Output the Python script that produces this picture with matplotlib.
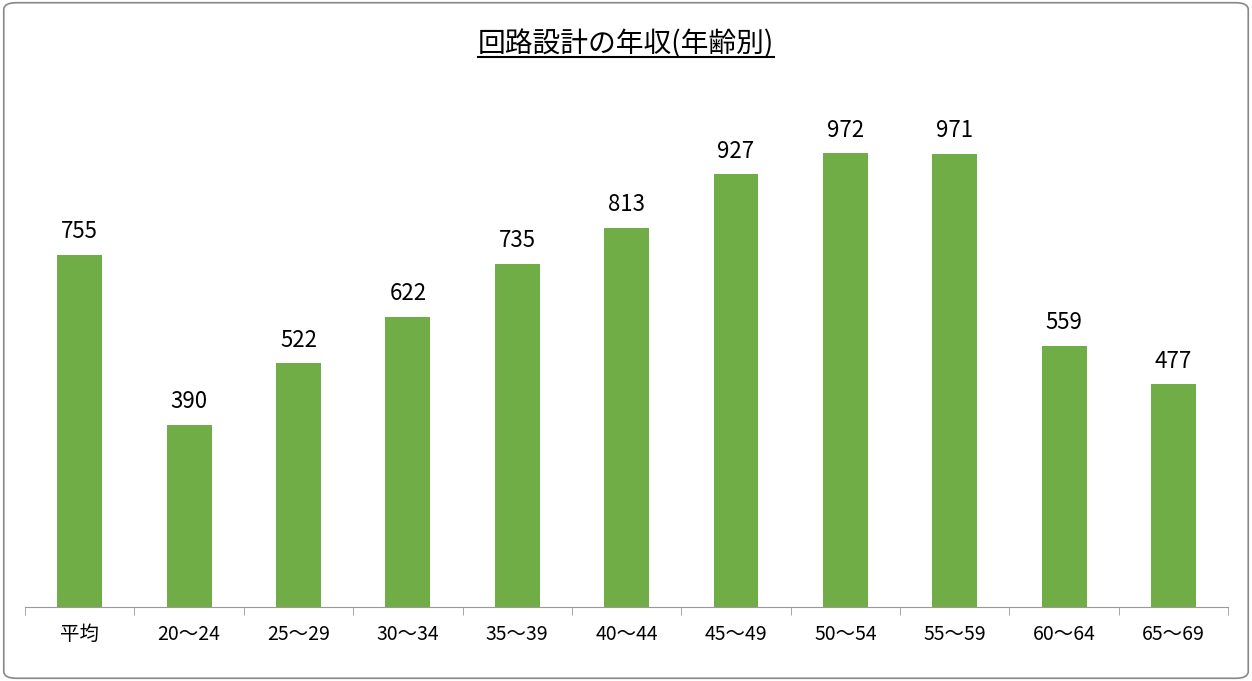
import matplotlib
matplotlib.use("Agg")
import matplotlib.pyplot as plt
from matplotlib.lines import Line2D
from matplotlib.patches import FancyBboxPatch

plt.rcParams['font.family'] = ['Noto Sans CJK JP', 'DejaVu Sans']

categories = ["平均", "20～24", "25～29", "30～34", "35～39", "40～44",
              "45～49", "50～54", "55～59", "60～64", "65～69"]
values = [755, 390, 522, 622, 735, 813, 927, 972, 971, 559, 477]
title = "回路設計の年収(年齢別)"

fig = plt.figure(figsize=(12.52, 6.81), dpi=100)
fig.patch.set_facecolor("white")
border = FancyBboxPatch((0.003, 0.004), 0.994, 0.992, boxstyle="round,pad=0,rounding_size=0.01",
                        transform=fig.transFigure, fill=False, edgecolor="#888888", lw=1.2)
fig.patches.append(border)

ax = fig.add_axes([0.02, 0.1087, 0.961, 0.6853])
x = list(range(len(categories)))
ax.bar(x, values, width=0.41, color="#70AD47")
for xi, v in zip(x, values):
    ax.text(xi, v + 25, str(v), ha="center", va="bottom", fontsize=16)
ax.set_xlim(-0.5, len(categories) - 0.5)
ax.set_ylim(0, 1000)
ax.set_yticks([])
for s in ["top", "right", "left"]:
    ax.spines[s].set_visible(False)
ax.spines["bottom"].set_color("#999999")
ax.set_xticks(x)
ax.set_xticklabels(categories, fontsize=14)
ax.tick_params(axis="x", length=0, pad=12)
ax.set_xticks([i + 0.5 for i in range(-1, len(categories))], minor=True)
ax.tick_params(axis="x", which="minor", length=6, color="#999999")

t = fig.text(0.5, 0.935, title, ha="center", va="center", fontsize=20)
fig.canvas.draw()
bb = t.get_window_extent().transformed(fig.transFigure.inverted())
fig.add_artist(Line2D([bb.x0, bb.x1], [bb.y0 + 0.003, bb.y0 + 0.003], color="black", lw=1.5,
                      transform=fig.transFigure))
fig.savefig("out.png", dpi=100)
